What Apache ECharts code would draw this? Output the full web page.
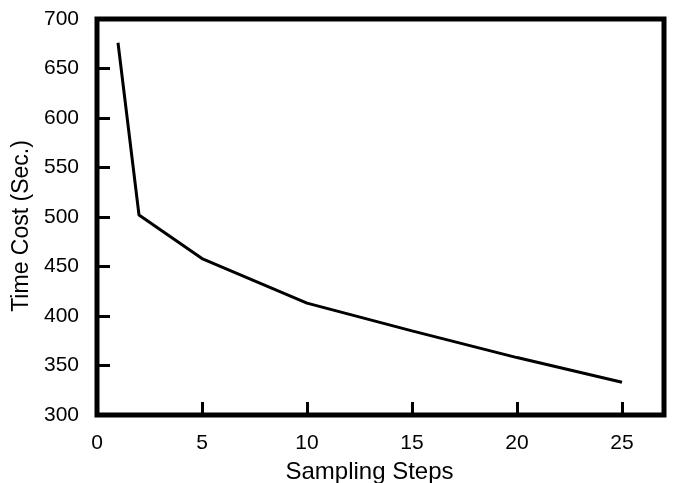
<!DOCTYPE html>
<html>
<head>
<meta charset="utf-8">
<script src="https://cdn.jsdelivr.net/npm/echarts@6/dist/echarts.min.js"></script>
<style>html,body{margin:0;padding:0;background:#fff}#c{width:675px;height:483px}</style>
</head>
<body>
<div id="c"></div>
<script>
const steps = [1, 2, 5, 10, 15, 20, 25];
const timeCost = [676, 502, 458, 413, 385, 358, 333];
const xName = 'Sampling Steps';
const yName = 'Time Cost (Sec.)';

const chart = echarts.init(document.getElementById('c'));
const font = 'Liberation Sans, Arial, sans-serif';
chart.setOption({
  animation: false,
  grid: { left: 97, right: 11, top: 19, bottom: 68, outerBoundsMode: 'none', containLabel: false,
    show: true, borderColor: '#000', borderWidth: 5, backgroundColor: 'transparent' },
  xAxis: {
    type: 'value', min: 0, max: 27, interval: 5,
    name: xName, nameLocation: 'middle', nameGap: 45,
    nameTextStyle: { color: '#000', fontSize: 24, fontFamily: font, padding: [0, 22, 0, 0] },
    axisLine: { show: false },
    axisTick: { show: true, inside: true, length: 13, lineStyle: { color: '#000', width: 3 } },
    axisLabel: { color: '#000', fontSize: 21, fontFamily: font, margin: 18,
      formatter: v => (v % 5 === 0 ? String(v) : '') },
    splitLine: { show: false }
  },
  yAxis: {
    type: 'value', min: 300, max: 700, interval: 50,
    name: yName, nameLocation: 'middle', nameGap: 64,
    nameTextStyle: { color: '#000', fontSize: 23, fontFamily: font, padding: [0, 18, 0, 0] },
    axisLine: { show: false },
    axisTick: { show: true, inside: true, length: 13, lineStyle: { color: '#000', width: 3 } },
    axisLabel: { color: '#000', fontSize: 21, fontFamily: font, margin: 18 },
    splitLine: { show: false }
  },
  series: [{
    type: 'line',
    data: steps.map((s, i) => [s, timeCost[i]]),
    showSymbol: false,
    lineStyle: { color: '#000', width: 3 },
    itemStyle: { color: '#000' }
  }]
});
</script>
</body>
</html>
